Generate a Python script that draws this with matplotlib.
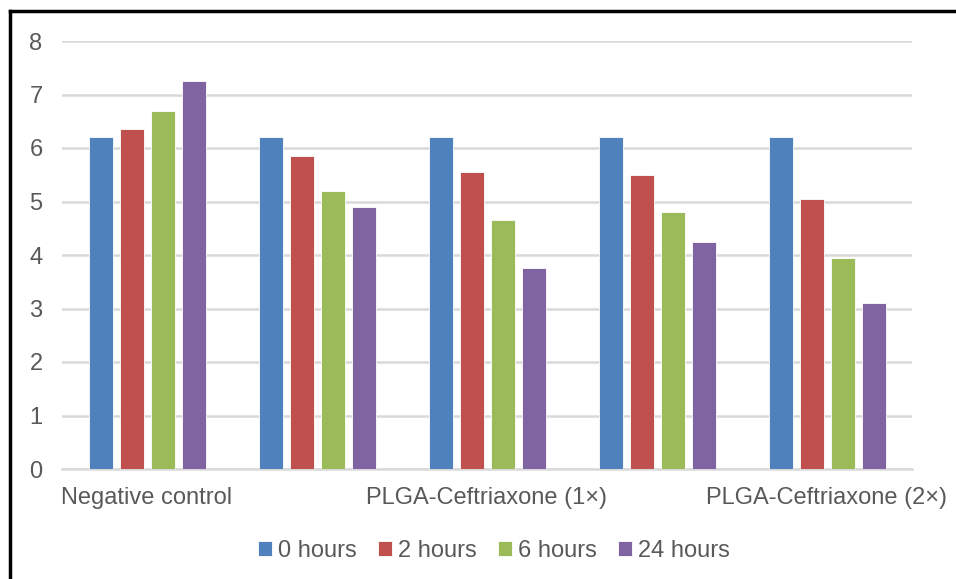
import matplotlib
matplotlib.use("Agg")
import matplotlib.pyplot as plt
from matplotlib.lines import Line2D
import numpy as np

plt.rcParams['font.family'] = ['Liberation Sans', 'DejaVu Sans']

# Tick labels along the category axis (alternate labels left blank)
tick_labels = ["Negative control", "", "PLGA-Ceftriaxone (1×)", "", "PLGA-Ceftriaxone (2×)"]
series_names = ["0 hours", "2 hours", "6 hours", "24 hours"]

hours_0 = [6.2, 6.2, 6.2, 6.2, 6.2]
hours_2 = [6.35, 5.85, 5.55, 5.5, 5.05]
hours_6 = [6.7, 5.2, 4.65, 4.8, 3.95]
hours_24 = [7.25, 4.9, 3.75, 4.25, 3.1]

colors = ["#4F81BD", "#C0504D", "#9BBB59", "#8064A2"]
text_color = "#595959"
grid_color = "#D9D9D9"

fig = plt.figure(figsize=(9.56, 5.79), dpi=100)
ax = fig.add_axes([62 / 956, 1 - 469 / 579, 850 / 956, 428 / 579])

x = np.arange(len(tick_labels))
step = 31 / 170
width = 24 / 170
series = [hours_0, hours_2, hours_6, hours_24]
handles = []
for i, (vals, name, c) in enumerate(zip(series, series_names, colors)):
    offs = (i - 1.5) * step
    b = ax.bar(x + offs, vals, width=width, color=c, label=name,
               edgecolor="white", linewidth=0.6, zorder=3)
    handles.append(b)

ax.set_xlim(-0.5, len(tick_labels) - 0.5)
ax.set_ylim(0, 8)
ax.set_yticks(range(0, 9))
ax.yaxis.grid(True, color=grid_color, linewidth=1.8, zorder=0)
ax.set_axisbelow(True)
for side in ["left", "right", "top"]:
    ax.spines[side].set_visible(False)
ax.spines["bottom"].set_color(grid_color)
ax.spines["bottom"].set_linewidth(1.8)
ax.spines["bottom"].set_zorder(1)

ax.set_xticks(x)
ax.set_xticklabels(tick_labels)
ax.tick_params(axis="both", length=0, labelsize=17, colors=text_color)
ax.tick_params(axis="y", pad=14)
ax.tick_params(axis="x", pad=13)

leg = fig.legend(handles=handles, labels=series_names, loc="center",
                 bbox_to_anchor=(494 / 956, 1 - 551 / 579), ncol=4, frameon=False,
                 fontsize=17, handlelength=0.6, handleheight=0.6,
                 handletextpad=0.25, columnspacing=0.9, labelcolor=text_color)

# Outer frame (top and left edges)
fig.add_artist(Line2D([10 / 956, 1.0], [1 - 11 / 579, 1 - 11 / 579],
                      transform=fig.transFigure, color="black", linewidth=2.5))
fig.add_artist(Line2D([10 / 956, 10 / 956], [0.0, 1 - 11 / 579],
                      transform=fig.transFigure, color="black", linewidth=2.5))

fig.savefig("out.png", dpi=100, facecolor="white")
